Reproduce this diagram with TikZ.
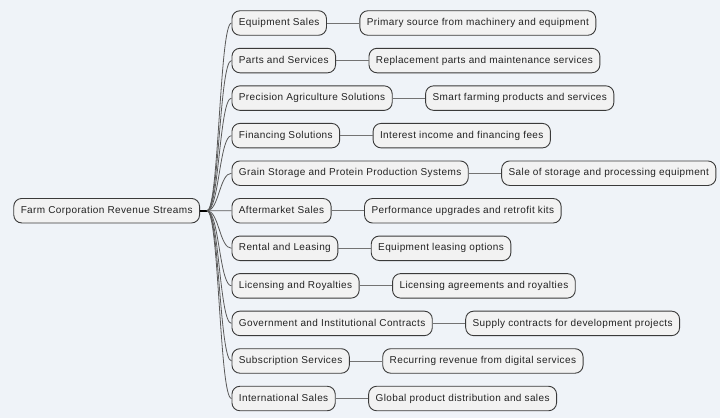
\documentclass[tikz,border=0pt]{standalone}
\usepackage{fontspec}
\setmainfont{Liberation Sans}[LetterSpace=3.8]
\definecolor{bg}{HTML}{EFF3F8}
\definecolor{nodefill}{HTML}{F2F2F2}
\definecolor{nodeborder}{HTML}{3A3A3A}
\definecolor{txt}{HTML}{222222}
\tikzset{
  box/.style={draw=nodeborder, fill=nodefill, rounded corners=8pt, line width=0.9pt,
    minimum height=24.5pt, inner xsep=7pt, inner ysep=0pt,
    text height=7.3pt, text depth=2.1pt,
    font=\fontsize{10}{12}\selectfont, text=txt, anchor=west},
  branch/.style={draw=black!65, line width=0.8pt},
  leaf/.style={draw=black!55, line width=0.8pt},
  stem/.style={draw=black, line width=2pt},
}
\begin{document}
\begin{tikzpicture}[x=1pt,y=-1pt]
\fill[bg] (0,0) rectangle (720,418);
\useasboundingbox (0,0) rectangle (720,418);
\node[box] (root) at (13.3,210.7) {Farm Corporation Revenue Streams};
\coordinate (j) at (207,210.7);
\draw[stem] (root.east) -- (j);
\foreach \i/\a/\b in {
  0/{Equipment Sales}/{Primary source from machinery and equipment},
  1/{Parts and Services}/{Replacement parts and maintenance services},
  2/{Precision Agriculture Solutions}/{Smart farming products and services},
  3/{Financing Solutions}/{Interest income and financing fees},
  4/{Grain Storage and Protein Production Systems}/{Sale of storage and processing equipment},
  5/{Aftermarket Sales}/{Performance upgrades and retrofit kits},
  6/{Rental and Leasing}/{Equipment leasing options},
  7/{Licensing and Royalties}/{Licensing agreements and royalties},
  8/{Government and Institutional Contracts}/{Supply contracts for development projects},
  9/{Subscription Services}/{Recurring revenue from digital services},
  10/{International Sales}/{Global product distribution and sales}}{
  \pgfmathsetmacro{\yy}{23+37.55*\i}
  \node[box] (a\i) at (231.5,\yy) {\a};
  \node[box] (b\i) at ([xshift=32.5pt]a\i.east) {\b};
  \draw[branch] (j) .. controls +(12,0) and +(-12,0) .. (a\i.west);
  \draw[leaf] (a\i.east) -- (b\i.west);
}
\end{tikzpicture}
\end{document}
